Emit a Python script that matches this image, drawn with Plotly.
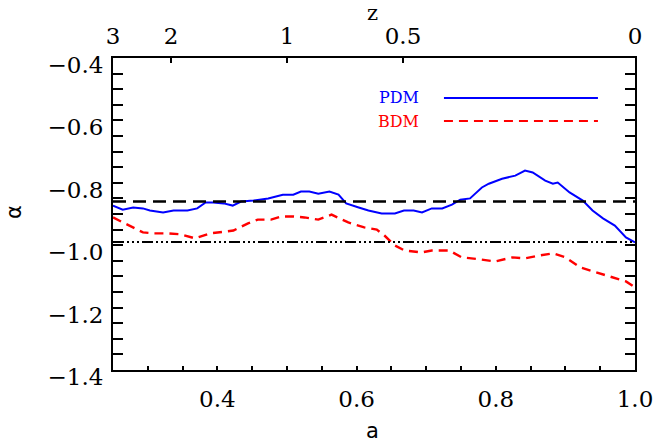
import plotly.graph_objects as go

# ---- data ----
a_pdm = [0.250, 0.264, 0.279, 0.293, 0.303, 0.322, 0.337, 0.357, 0.371, 0.383,
         0.394, 0.409, 0.422, 0.434, 0.452, 0.473, 0.494, 0.509, 0.520, 0.532,
         0.545, 0.561, 0.574, 0.585, 0.603, 0.617, 0.636, 0.655, 0.668, 0.682,
         0.694, 0.708, 0.723, 0.737, 0.749, 0.763, 0.780, 0.790, 0.809, 0.828,
         0.842, 0.853, 0.871, 0.882, 0.889, 0.906, 0.925, 0.939, 0.954, 0.971,
         0.987, 1.000]
alpha_pdm = [-0.873, -0.886, -0.879, -0.882, -0.889, -0.895, -0.889, -0.889, -0.882, -0.863,
             -0.863, -0.866, -0.873, -0.860, -0.857, -0.850, -0.838, -0.838, -0.828, -0.828,
             -0.835, -0.828, -0.838, -0.866, -0.879, -0.889, -0.898, -0.898, -0.889, -0.889,
             -0.895, -0.882, -0.882, -0.870, -0.854, -0.850, -0.815, -0.803, -0.787, -0.777,
             -0.761, -0.767, -0.793, -0.803, -0.799, -0.831, -0.857, -0.889, -0.914, -0.937,
             -0.975, -0.991]

a_bdm = [0.250, 0.264, 0.279, 0.293, 0.308, 0.328, 0.347, 0.368, 0.390, 0.409,
         0.423, 0.444, 0.458, 0.477, 0.491, 0.510, 0.525, 0.545, 0.564, 0.588,
         0.611, 0.629, 0.640, 0.655, 0.669, 0.694, 0.708, 0.733, 0.751, 0.776,
         0.799, 0.824, 0.842, 0.863, 0.882, 0.900, 0.921, 0.944, 0.968, 0.987,
         1.000]
alpha_bdm = [-0.911, -0.927, -0.943, -0.959, -0.962, -0.962, -0.965, -0.978, -0.962, -0.956,
             -0.953, -0.930, -0.918, -0.918, -0.908, -0.908, -0.911, -0.918, -0.902, -0.927,
             -0.943, -0.950, -0.969, -1.001, -1.017, -1.023, -1.017, -1.017, -1.039, -1.045,
             -1.052, -1.039, -1.042, -1.033, -1.026, -1.039, -1.071, -1.087, -1.103, -1.116,
             -1.135]

ref_dashed = -0.86
ref_dotdash = -0.99
a_range = [0.25, 1.0]
alpha_range = [-1.4, -0.4]

z_ticks = [3, 2, 1, 0.5, 0]
z_labels = ["3", "2", "1", "0.5", "0"]
a_of_z = [1.0 / (1.0 + z) for z in z_ticks]

FONT = "DejaVu Serif"
TICKFONT = dict(family=FONT, size=23, color="black")

fig = go.Figure()

fig.add_trace(go.Scatter(x=a_range, y=[ref_dashed, ref_dashed], mode="lines",
                         line=dict(color="black", width=2.5, dash="13px,7px"),
                         showlegend=False, xaxis="x2", hoverinfo="skip"))
fig.add_trace(go.Scatter(x=a_range, y=[ref_dotdash, ref_dotdash], mode="lines",
                         line=dict(color="black", width=2,
                                   dash="11px,3px,2px,3px,2px,3px,2px,3px"),
                         showlegend=False, xaxis="x2", hoverinfo="skip"))
fig.add_trace(go.Scatter(x=a_pdm, y=alpha_pdm, mode="lines",
                         line=dict(color="#0000ff", width=2), name="PDM",
                         showlegend=False))
fig.add_trace(go.Scatter(x=a_bdm, y=alpha_bdm, mode="lines",
                         line=dict(color="#ff0000", width=2.4, dash="9px,6px"),
                         name="BDM", showlegend=False))

# legend (text left of line sample, IDL style)
fig.add_annotation(x=0.590, y=0.872, xref="paper", yref="paper", text="PDM",
                   showarrow=False, xanchor="right", yanchor="middle",
                   font=dict(family=FONT, size=16, color="#0000ff"))
fig.add_annotation(x=0.590, y=0.798, xref="paper", yref="paper", text="BDM",
                   showarrow=False, xanchor="right", yanchor="middle",
                   font=dict(family=FONT, size=16, color="#ff0000"))
fig.add_shape(type="line", xref="paper", yref="paper", x0=0.634, x1=0.929,
              y0=0.872, y1=0.872, line=dict(color="#0000ff", width=2))
fig.add_shape(type="line", xref="paper", yref="paper", x0=0.634, x1=0.929,
              y0=0.798, y1=0.798, line=dict(color="#ff0000", width=2, dash="9px,6px"))

# axis titles
fig.add_annotation(x=0.498, y=-0.197, xref="paper", yref="paper", text="a",
                   showarrow=False, xanchor="center", yanchor="middle",
                   font=dict(family="DejaVu Sans", size=21, color="black"))
fig.add_annotation(x=0.498, y=1.145, xref="paper", yref="paper", text="z",
                   showarrow=False, xanchor="center", yanchor="middle",
                   font=dict(family=FONT, size=21, color="black"))
fig.add_annotation(x=-0.19, y=0.506, xref="paper", yref="paper", text="α",
                   showarrow=False, xanchor="center", yanchor="middle", textangle=-90,
                   font=dict(family="DejaVu Sans", size=21, color="black"))

fig.update_layout(
    width=655, height=443,
    margin=dict(l=113, r=20, t=58, b=73),
    paper_bgcolor="white", plot_bgcolor="white",
    font=dict(family=FONT, size=23, color="black"),
    xaxis=dict(range=a_range, showgrid=False, zeroline=False, automargin=False,
               showline=True, linecolor="black", linewidth=2, mirror=True,
               ticks="inside", ticklen=4, tickwidth=1.5, tickcolor="black",
               tick0=0.4, dtick=0.2, tickformat=".1f", tickfont=TICKFONT,
               ticklabelstandoff=7,
               minor=dict(ticks="inside", ticklen=4, dtick=0.05, tick0=0.25,
                          tickcolor="black", tickwidth=1.5)),
    xaxis2=dict(range=a_range, overlaying="x", side="top", showgrid=False,
                zeroline=False, showline=False, automargin=False,
                tickmode="array", tickvals=a_of_z, ticktext=z_labels,
                ticks="inside", ticklen=5, tickwidth=1.5, tickcolor="black",
                tickfont=TICKFONT, ticklabelstandoff=8),
    yaxis=dict(range=alpha_range, showgrid=False, zeroline=False, automargin=False,
               showline=True, linecolor="black", linewidth=2, mirror="allticks",
               ticks="inside", ticklen=10, tickwidth=1.5, tickcolor="black",
               tick0=-1.4, dtick=0.2, tickformat=".1f", tickfont=TICKFONT,
               ticklabelstandoff=3, ticklabelshift=7,
               minor=dict(ticks="inside", ticklen=5, dtick=0.05, tick0=-1.4,
                          tickcolor="black", tickwidth=1.5)),
)

fig.write_html("out.html", config={"displayModeBar": False},
               post_script="document.body.style.margin='0';document.body.style.padding='0';")
